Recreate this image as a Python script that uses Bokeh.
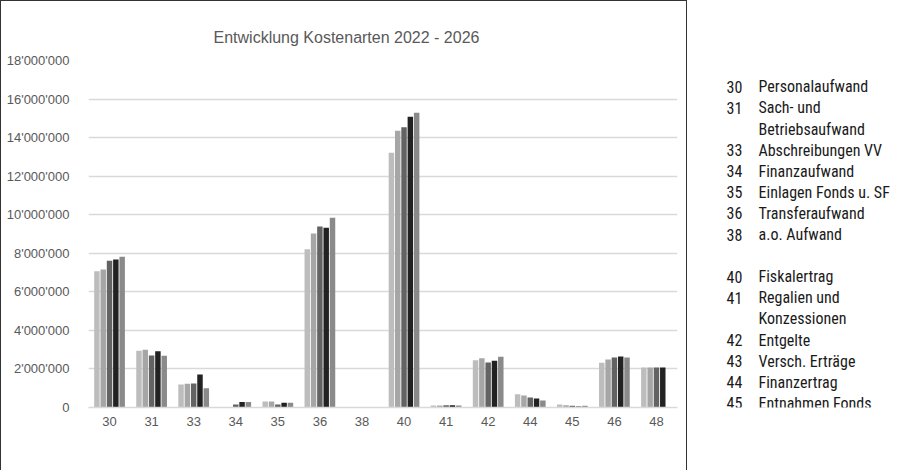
from bokeh.plotting import figure
from bokeh.models import (FactorRange, Range1d, CustomJSTickFormatter,
                          SingleIntervalTicker, Title, ColumnDataSource, LabelSet)
from bokeh.transform import dodge
from bokeh.layouts import row
from bokeh.core.properties import value
from bokeh.embed import file_html
from bokeh.resources import INLINE

# ---------------- data ----------------
categories = ["30", "31", "33", "34", "35", "36", "38", "40", "41", "42", "44", "45", "46", "48"]
series_names = ["Rechnung 2022", "Rechnung 2023", "Rechnung 2024", "Budget 2025", "Budget 2026"]
rechnung_2022 = [7070000, 2940000, 1190000, 0, 310000, 8210000, 0, 13210000, 110000, 2450000, 690000, 160000, 2320000, 2070000]
rechnung_2023 = [7160000, 2990000, 1230000, 30000, 310000, 9020000, 0, 14350000, 110000, 2560000, 620000, 120000, 2490000, 2070000]
rechnung_2024 = [7610000, 2700000, 1240000, 160000, 160000, 9390000, 0, 14540000, 120000, 2330000, 520000, 90000, 2590000, 2070000]
budget_2025 = [7680000, 2920000, 1710000, 280000, 240000, 9320000, 0, 15080000, 120000, 2420000, 470000, 50000, 2650000, 2070000]
budget_2026 = [7820000, 2680000, 1000000, 280000, 240000, 9840000, 0, 15290000, 110000, 2630000, 360000, 90000, 2590000, 0]
series_colors = ["#bdbdbd", "#a6a6a6", "#636363", "#222222", "#8a8a8a"]

legend_codes = ["30", "31", "", "33", "34", "35", "36", "38", "", "40", "41", "", "42", "43", "44", "45", "", "46", "48"]
legend_texts = ["Personalaufwand", "Sach- und", "Betriebsaufwand", "Abschreibungen VV", "Finanzaufwand",
                "Einlagen Fonds u. SF", "Transferaufwand", "a.o. Aufwand", "", "Fiskalertrag",
                "Regalien und", "Konzessionen", "Entgelte", "Versch. Erträge", "Finanzertrag",
                "Entnahmen Fonds", "und SF", "Transferertrag", "a.o. Ertrag"]


def set_font(model, font):
    try:
        model.text_font = value(font)
    except Exception:
        model.text_font = font


# ---------------- chart ----------------
W, H = 687, 470
FRAME_LEFT, FRAME_W = 88, 589          # page pixels of the plot frame
src = ColumnDataSource(dict(cat=categories, r22=rechnung_2022, r23=rechnung_2023,
                            r24=rechnung_2024, b25=budget_2025, b26=budget_2026))

p = figure(width=W, height=H, x_range=FactorRange(*categories), y_range=Range1d(0, 18000000),
           output_backend="svg", toolbar_location=None,
           min_border_left=87, min_border_right=11, min_border_top=59, min_border_bottom=64)
p.styles = {"border-left": "1px solid #333333", "border-top": "1px solid #333333",
            "border-right": "1px solid #333333"}
p.outline_line_color = None
p.background_fill_color = "white"

title = Title(text="Entwicklung Kostenarten 2022 - 2026", align="left", offset=125,
              text_font="Liberation Sans", text_font_size="16px",
              text_font_style="normal", text_color="#595959", standoff=30)
p.add_layout(title, "above")

cols = ["r22", "r23", "r24", "b25", "b26"]
offsets = [-0.30, -0.15, 0.0, 0.15, 0.30]
for c, off, color in zip(cols, offsets, series_colors):
    p.vbar(x=dodge("cat", off, range=p.x_range), top=c, width=0.13, source=src,
           fill_color=color, line_color=None)

# legend row below the axis (text annotations, not clipped to the frame)
cat_px = FRAME_W / len(categories)
sq_page_x = [65, 189, 317, 442, 548]
lbl_page_x = [75, 200, 327, 452, 558]
leg_y = -(453 - 407) / (407 - 60) * 18000000
leg_src = ColumnDataSource(dict(
    xs=[(v - FRAME_LEFT) / cat_px for v in sq_page_x],
    xl=[(v - FRAME_LEFT) / cat_px for v in lbl_page_x],
    y=[leg_y] * len(series_names), sq=["■"] * len(series_names),
    name=series_names, clr=series_colors))
sq_set = LabelSet(x="xs", y="y", text="sq", source=leg_src, text_color="clr",
                  text_font_size="10px", text_baseline="middle", text_align="left")
set_font(sq_set, "DejaVu Sans")
p.add_layout(sq_set)
lbl_set = LabelSet(x="xl", y="y", text="name", source=leg_src, text_color="#595959",
                   text_font_size="13px", text_baseline="middle", text_align="left")
set_font(lbl_set, "Liberation Sans")
p.add_layout(lbl_set)

p.xgrid.grid_line_color = None
p.ygrid.grid_line_color = "#d9d9d9"
p.ygrid.grid_line_width = 1.3
p.yaxis.ticker = SingleIntervalTicker(interval=2000000)
p.ygrid.ticker = p.yaxis.ticker
p.yaxis.formatter = CustomJSTickFormatter(
    code="return tick.toFixed(0).replace(/\\B(?=(\\d{3})+(?!\\d))/g, \"'\");")
p.yaxis.axis_line_color = None
p.yaxis.major_tick_line_color = None
p.yaxis.minor_tick_line_color = None
p.yaxis.major_label_standoff = 13
p.xaxis.axis_line_color = "#d9d9d9"
p.xaxis.axis_line_width = 1.3
p.xaxis.major_tick_line_color = None
p.xaxis.minor_tick_line_color = None
p.xaxis.major_label_standoff = 3
for ax in (p.xaxis[0], p.yaxis[0]):
    ax.major_label_text_font = "Liberation Sans"
    ax.major_label_text_font_size = "13px"
    ax.major_label_text_color = "#595959"

# ---------------- side text (page-pixel coordinates) ----------------
SW = 212
q_left = W + 2
q = figure(width=SW, height=H + 1, x_range=Range1d(q_left, q_left + SW), y_range=Range1d(H + 1 - 64, 59),
           output_backend="svg", toolbar_location=None,
           min_border_left=0, min_border_right=0, min_border_top=59, min_border_bottom=64)
q.axis.visible = False
q.grid.visible = False
q.outline_line_color = None

side_font = "Roboto Condensed, DejaVu Sans Condensed, Roboto"
y0, pitch = 86.3, 21.1
ys = [y0 + i * pitch for i in range(len(legend_texts))]
side_src = ColumnDataSource(dict(xc=[728] * len(ys), xt=[760] * len(ys), y=ys,
                                 code=legend_codes, txt=legend_texts))
for xcol, tcol in (("xc", "code"), ("xt", "txt")):
    ls = LabelSet(x=xcol, y="y", text=tcol, source=side_src, text_font_size="16px",
                  text_color="#1a1a1a", text_baseline="middle", text_align="left")
    set_font(ls, side_font)
    q.add_layout(ls)

layout = row(p, q)
open("out.html", "w").write(file_html(layout, INLINE))
